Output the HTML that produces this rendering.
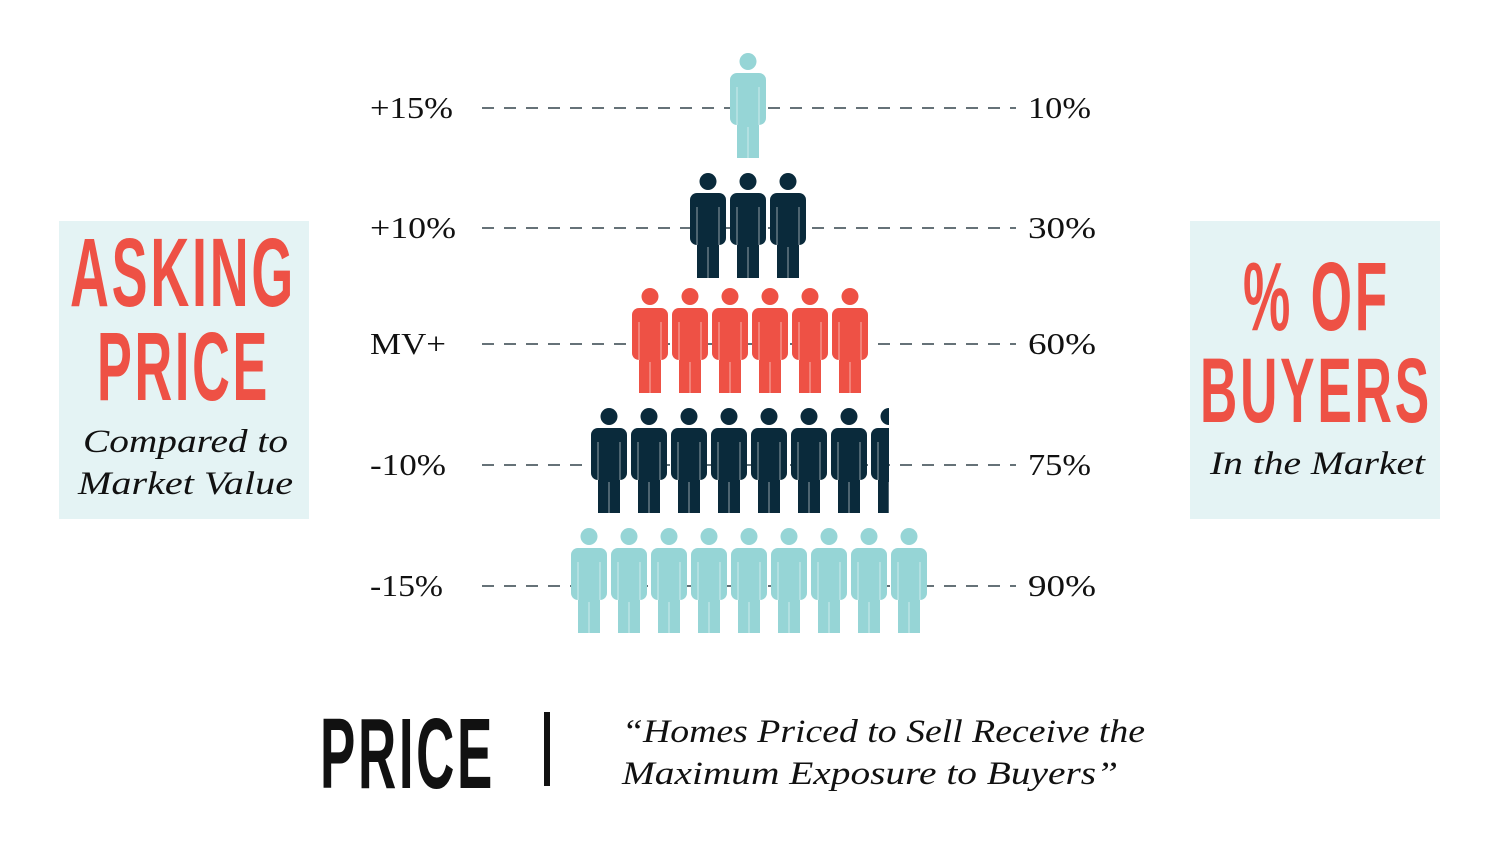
<!DOCTYPE html>
<html><head><meta charset="utf-8"><style>
html,body{margin:0;padding:0;background:#fff;}
svg{display:block;}
.lbl{font-family:"Liberation Serif",serif;font-size:31px;fill:#111;}
.cond{font-family:"Liberation Sans Narrow","Liberation Sans",sans-serif;font-weight:bold;letter-spacing:5px;}
.it{font-family:"Liberation Serif",serif;font-style:italic;font-size:33px;fill:#111;}
</style></head><body>
<svg width="1500" height="844" viewBox="0 0 1500 844" xmlns="http://www.w3.org/2000/svg">
<defs>
<g id="p">
  <circle cx="18" cy="8.5" r="8.5"/>
  <rect x="0" y="20" width="36" height="52" rx="7"/>
  <rect x="7" y="66" width="22" height="39"/>
</g>
<g id="gaps" stroke="#ffffff" stroke-opacity="0.35" stroke-width="1.6">
  <line x1="7" y1="34" x2="7" y2="72"/><line x1="29" y1="34" x2="29" y2="72"/><line x1="18" y1="74" x2="18" y2="105"/>
</g>
<clipPath id="cl"><rect x="0" y="0" width="889" height="844"/></clipPath>
</defs>
<rect x="59" y="221" width="250" height="298" fill="#e4f3f4"/>
<rect x="1190" y="221" width="250" height="298" fill="#e4f3f4"/>
<g stroke="#34444b" stroke-width="1.6" stroke-dasharray="12 10">
  <line x1="482" y1="108" x2="1016" y2="108"/>
  <line x1="482" y1="228" x2="1016" y2="228"/>
  <line x1="482" y1="344" x2="1016" y2="344"/>
  <line x1="482" y1="465" x2="1016" y2="465"/>
  <line x1="482" y1="586" x2="1016" y2="586"/>
</g>
<g fill="#96d5d6"><use href="#p" x="730" y="53"/></g>
<use href="#gaps" x="730" y="53"/>
<g fill="#0a2a3b">
  <use href="#p" x="690" y="173"/><use href="#p" x="730" y="173"/><use href="#p" x="770" y="173"/>
</g>
<g><use href="#gaps" x="690" y="173"/><use href="#gaps" x="730" y="173"/><use href="#gaps" x="770" y="173"/></g>
<g fill="#ee5145">
  <use href="#p" x="632" y="288"/><use href="#p" x="672" y="288"/><use href="#p" x="712" y="288"/><use href="#p" x="752" y="288"/><use href="#p" x="792" y="288"/><use href="#p" x="832" y="288"/>
</g>
<g><use href="#gaps" x="632" y="288"/><use href="#gaps" x="672" y="288"/><use href="#gaps" x="712" y="288"/><use href="#gaps" x="752" y="288"/><use href="#gaps" x="792" y="288"/><use href="#gaps" x="832" y="288"/></g>
<g fill="#0a2a3b" clip-path="url(#cl)">
  <use href="#p" x="591" y="408"/><use href="#p" x="631" y="408"/><use href="#p" x="671" y="408"/><use href="#p" x="711" y="408"/><use href="#p" x="751" y="408"/><use href="#p" x="791" y="408"/><use href="#p" x="831" y="408"/><use href="#p" x="871" y="408"/>
</g>
<g clip-path="url(#cl)"><use href="#gaps" x="591" y="408"/><use href="#gaps" x="631" y="408"/><use href="#gaps" x="671" y="408"/><use href="#gaps" x="711" y="408"/><use href="#gaps" x="751" y="408"/><use href="#gaps" x="791" y="408"/><use href="#gaps" x="831" y="408"/><use href="#gaps" x="871" y="408"/></g>
<g fill="#96d5d6">
  <use href="#p" x="571" y="528"/><use href="#p" x="611" y="528"/><use href="#p" x="651" y="528"/><use href="#p" x="691" y="528"/><use href="#p" x="731" y="528"/><use href="#p" x="771" y="528"/><use href="#p" x="811" y="528"/><use href="#p" x="851" y="528"/><use href="#p" x="891" y="528"/>
</g>
<g><use href="#gaps" x="571" y="528"/><use href="#gaps" x="611" y="528"/><use href="#gaps" x="651" y="528"/><use href="#gaps" x="691" y="528"/><use href="#gaps" x="731" y="528"/><use href="#gaps" x="771" y="528"/><use href="#gaps" x="811" y="528"/><use href="#gaps" x="851" y="528"/><use href="#gaps" x="891" y="528"/></g>

<text class="lbl" x="370" y="118" textLength="83" lengthAdjust="spacingAndGlyphs">+15%</text>
<text class="lbl" x="370" y="238" textLength="86" lengthAdjust="spacingAndGlyphs">+10%</text>
<text class="lbl" x="370" y="354" textLength="76" lengthAdjust="spacingAndGlyphs">MV+</text>
<text class="lbl" x="370" y="475" textLength="76" lengthAdjust="spacingAndGlyphs">-10%</text>
<text class="lbl" x="370" y="596" textLength="73" lengthAdjust="spacingAndGlyphs">-15%</text>
<text class="lbl" x="1028" y="118" textLength="63" lengthAdjust="spacingAndGlyphs">10%</text>
<text class="lbl" x="1028" y="238" textLength="68" lengthAdjust="spacingAndGlyphs">30%</text>
<text class="lbl" x="1028" y="354" textLength="68" lengthAdjust="spacingAndGlyphs">60%</text>
<text class="lbl" x="1028" y="475" textLength="63" lengthAdjust="spacingAndGlyphs">75%</text>
<text class="lbl" x="1028" y="596" textLength="68" lengthAdjust="spacingAndGlyphs">90%</text>

<text class="cond" x="70" y="306" font-size="97" fill="#ee5145" textLength="226" lengthAdjust="spacingAndGlyphs">ASKING</text>
<text class="cond" x="97" y="400" font-size="97" fill="#ee5145" textLength="173" lengthAdjust="spacingAndGlyphs">PRICE</text>
<text class="it" x="83" y="452" textLength="205" lengthAdjust="spacingAndGlyphs">Compared to</text>
<text class="it" x="78" y="494" textLength="215" lengthAdjust="spacingAndGlyphs">Market Value</text>

<text class="cond" x="1243" y="330" font-size="97" fill="#ee5145" textLength="147" lengthAdjust="spacingAndGlyphs">% OF</text>
<text class="cond" x="1200" y="422" font-size="92" fill="#ee5145" textLength="232" lengthAdjust="spacingAndGlyphs">BUYERS</text>
<text class="it" x="1210" y="474" textLength="215" lengthAdjust="spacingAndGlyphs">In the Market</text>

<text class="cond" x="320" y="788" font-size="100" fill="#111" textLength="175" lengthAdjust="spacingAndGlyphs">PRICE</text>
<rect x="544" y="712" width="6" height="74" fill="#111"/>
<text class="it" x="622" y="742" textLength="523" lengthAdjust="spacingAndGlyphs">“Homes Priced to Sell Receive the</text>
<text class="it" x="622" y="784" textLength="496" lengthAdjust="spacingAndGlyphs">Maximum Exposure to Buyers”</text>
</svg>
</body></html>
